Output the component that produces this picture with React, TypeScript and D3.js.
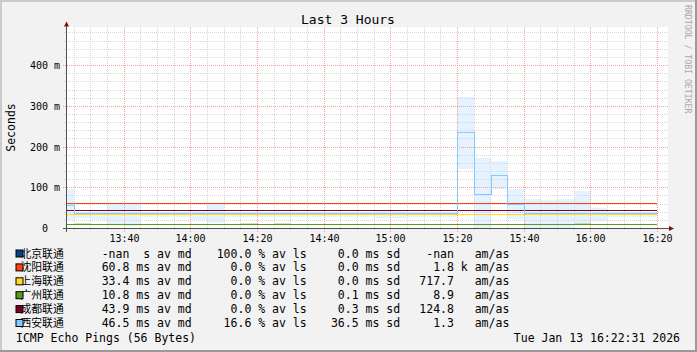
import React from "react";
import * as d3 from "d3";

const TITLE = "Last 3 Hours";
const Y_LABEL = "Seconds";
const WATERMARK = "RRDTOOL / TOBI OETIKER";
const FOOT_LEFT = "ICMP Echo Pings (56 Bytes)";
const FOOT_RIGHT = "Tue Jan 13 16:22:31 2026";

const hosts = ["北京联通", "沈阳联通", "上海联通", "广州联通", "成都联通", "西安联通"];
const hostColors = ["#004586", "#ff420e", "#ffde20", "#579d1c", "#7e0021", "#83caff"];

// legend statistics
const avMd = [NaN, 60.8, 33.4, 10.8, 43.9, 46.5];
const avLs = [100.0, 0.0, 0.0, 0.0, 0.0, 16.6];
const avSd = [0.0, 0.0, 0.0, 0.1, 0.3, 36.5];
const amAs = [NaN, 1800, 717.7, 8.9, 124.8, 1.3];

// 5-minute steps (start times)
const stepTimes = [
  "13:20", "13:25", "13:30", "13:35", "13:40", "13:45",
  "13:50", "13:55", "14:00", "14:05", "14:10", "14:15",
  "14:20", "14:25", "14:30", "14:35", "14:40", "14:45",
  "14:50", "14:55", "15:00", "15:05", "15:10", "15:15",
  "15:20", "15:25", "15:30", "15:35", "15:40", "15:45",
  "15:50", "15:55", "16:00", "16:05", "16:10", "16:15",
];
const lastStepEnd = "16:20";

// medians (ms)
const beijingMedian = [
  null, null, null, null, null, null, null, null, null, null, null, null,
  null, null, null, null, null, null, null, null, null, null, null, null,
  null, null, null, null, null, null, null, null, null, null, null, null,
];
const shenyangMedian = [
  60.8, 60.8, 60.8, 60.8, 60.8, 60.8, 60.8, 60.8, 60.8, 60.8, 60.8, 60.8,
  60.8, 60.8, 60.8, 60.8, 60.8, 60.8, 60.8, 60.8, 60.8, 60.8, 60.8, 60.8,
  60.8, 60.8, 60.8, 60.8, 60.8, 60.8, 60.8, 60.8, 60.8, 60.8, 60.8, 60.8,
];
const shanghaiMedian = [
  33.4, 33.4, 33.4, 33.4, 33.4, 33.4, 33.4, 33.4, 33.4, 33.4, 33.4, 33.4,
  33.4, 33.4, 33.4, 33.4, 33.4, 33.4, 33.4, 33.4, 33.4, 33.4, 33.4, 33.4,
  33.4, 33.4, 33.4, 33.4, 33.4, 33.4, 33.4, 33.4, 33.4, 33.4, 33.4, 33.4,
];
const guangzhouMedian = [
  10.8, 10.8, 10.8, 10.8, 10.8, 10.8, 10.8, 10.8, 10.8, 10.8, 10.8, 10.8,
  10.8, 10.8, 10.8, 10.8, 10.8, 10.8, 10.8, 10.8, 10.8, 10.8, 10.8, 10.8,
  10.8, 10.8, 10.8, 10.8, 10.8, 10.8, 10.8, 10.8, 10.8, 10.8, 10.8, 10.8,
];
const chengduMedian = [
  43.9, 43.9, 43.9, 43.9, 43.9, 43.9, 43.9, 43.9, 43.9, 43.9, 43.9, 43.9,
  43.9, 43.9, 43.9, 43.9, 43.9, 43.9, 43.9, 43.9, 43.9, 43.9, 43.9, 43.9,
  43.9, 43.9, 43.9, 43.9, 43.9, 43.9, 43.9, 43.9, 43.9, 43.9, 43.9, 43.9,
];
const xianMedian = [
  57, 36.8, 36.8, 36.8, 36.8, 36.8, 36.8, 36.8, 36.8, 36.8, 36.8, 36.8,
  36.8, 36.8, 36.8, 36.8, 36.8, 36.8, 36.8, 36.8, 36.8, 36.8, 36.8, 36.8,
  235, 83, 130, 59, 36.8, 36.8, 36.8, 36.8, 36.8, 36.8, 36.8, 36.8,
];
const seriesMedians = [beijingMedian, shenyangMedian, shanghaiMedian, guangzhouMedian, chengduMedian, xianMedian];

// smoke (spread) bands
const xianLo = [
  20, 25, 22, 8, 6, 29, 29, 29, 22, 14, 29, 29,
  29, 29, 29, 29, 29, 29, 29, 27, 27, 29, 29, 29,
  147, 0, 98, 23, 1, 1, 1, 12, 19, 29, 29, 29,
];
const xianHi = [
  96, 41, 45, 61, 61, 41, 41, 41, 45, 59, 41, 41,
  41, 41, 41, 41, 41, 41, 41, 45, 45, 41, 41, 41,
  323, 172, 165, 96, 72, 70, 72, 91, 51, 41, 41, 41,
];
const guangzhouLo = [
  10.8, 9.5, 10.8, 10.8, 10.8, 10.8, 10.8, 10.8, 10.8, 10.8, 10.8, 9.5,
  10.8, 9.5, 10.8, 10.8, 10.8, 10.8, 10.8, 10.8, 10.8, 10.8, 10.8, 10.8,
  10.8, 10.8, 10.8, 10.8, 10.8, 10.8, 10.8, 9.5, 10.8, 10.8, 10.8, 10.8,
];
const guangzhouHi = [
  10.8, 13.5, 10.8, 10.8, 10.8, 10.8, 10.8, 10.8, 10.8, 10.8, 10.8, 13.5,
  10.8, 13.5, 10.8, 10.8, 10.8, 10.8, 10.8, 10.8, 10.8, 10.8, 10.8, 10.8,
  10.8, 10.8, 10.8, 10.8, 10.8, 10.8, 10.8, 13.5, 10.8, 10.8, 10.8, 10.8,
];

const W = 697;
const H = 352;
const MONO = "'DejaVu Sans Mono', monospace";
const CJK = "'Noto Sans CJK SC', 'Noto Sans', sans-serif";

const toDate = (hm: string) => {
  const [h, m] = hm.split(":").map(Number);
  return new Date(2026, 0, 13, h, m, 0);
};

const fmt = (v: number, w: number) => (isNaN(v) ? "-nan" : v.toFixed(1)).padStart(w, " ");

export default function App() {
  const start = new Date(2026, 0, 13, 13, 22, 54);
  const end = new Date(2026, 0, 13, 16, 22, 54);
  const x = d3.scaleTime().domain([start, end]).range([67, 667]);
  const y = d3.scaleLinear().domain([0, 491]).range([228.5, 28.5]);
  const px = (v: number) => Math.floor(v) + 0.5;

  const steps = stepTimes.map(toDate);
  const endT = toDate(lastStepEnd);
  const stepEnds = steps.map((s, i) => (i < steps.length - 1 ? steps[i + 1] : endT));

  const minorY = d3.range(20, 481, 20).filter((v) => v % 100 !== 0);
  const majorY = [100, 200, 300, 400];
  const minorX = d3.timeMinute.every(5)!.range(start, end).filter((t) => t.getMinutes() % 20 !== 0);
  const majorX = d3.timeMinute.every(20)!.range(start, end);
  const labelY = [0, 100, 200, 300, 400];

  const line = d3
    .line<{ t: Date; v: number | null }>()
    .defined((d) => d.v !== null)
    .x((d) => Math.round(x(d.t)))
    .y((d) => px(y(d.v as number)))
    .curve(d3.curveStepAfter);

  const seriesPts = seriesMedians.map((arr) => {
    const pts = arr.map((v, i) => ({ t: steps[i], v }));
    pts.push({ t: endT, v: arr[arr.length - 1] });
    return pts;
  });

  const smokeRects = (lo: number[], hi: number[], color: string, op: number, key: string) =>
    lo.map((l, i) => {
      const h = hi[i];
      if (h - l <= 0) return null;
      const x0 = Math.round(x(steps[i]));
      const x1 = Math.round(x(stepEnds[i]));
      const y0 = Math.round(y(h));
      const y1 = Math.round(y(l));
      return <rect key={key + i} x={x0} y={y0} width={x1 - x0} height={Math.max(1, y1 - y0)} fill={color} fillOpacity={op} />;
    });

  const rowBase = (i: number) => 257.5 + i * 13.9;

  const colA = avMd.map((v) => `${fmt(v, 4)} ${isNaN(v) ? " " : "m"}s av md`);
  const colB = avLs.map((v) => `${fmt(v, 5)} % av ls`);
  const colC = avSd.map((v) => `${fmt(v, 5)} ms sd`);
  const colD = amAs.map((v) =>
    !isNaN(v) && v >= 1000 ? `${fmt(v / 1000, 5)} k am/as` : `${fmt(v, 5)}   am/as`
  );

  return (
    <svg width={W} height={H} viewBox={`0 0 ${W} ${H}`} style={{ display: "block" }}>
      <style>{`body{margin:0}`}</style>
      <defs>
        <clipPath id="plotClip">
          <rect x={67} y={27} width={601} height={202} />
        </clipPath>
      </defs>
      {/* frame */}
      <rect x={0} y={0} width={W} height={H} fill="#f2f2f2" />
      <rect x={0} y={0} width={W} height={2} fill="#cbcbcb" />
      <rect x={0} y={0} width={2} height={H} fill="#cbcbcb" />
      <rect x={0} y={H - 2} width={W} height={2} fill="#9a9a9a" />
      <rect x={W - 2} y={0} width={2} height={H} fill="#9a9a9a" />

      {/* canvas */}
      <rect x={67} y={27} width={601} height={201} fill="#ffffff" />

      {/* smoke */}
      <g clipPath="url(#plotClip)">
        {smokeRects(xianLo, xianHi, hostColors[5], 0.22, "xs")}
        {smokeRects(guangzhouLo, guangzhouHi, hostColors[3], 0.28, "gs")}
      </g>

      {/* grid */}
      <g shapeRendering="crispEdges" strokeWidth={1}>
        {minorY.map((v) => (
          <line key={"my" + v} x1={64} x2={668} y1={px(y(v))} y2={px(y(v))} stroke="#d6d6d6" strokeDasharray="1,1" />
        ))}
        {minorX.map((t) => (
          <line key={"mx" + +t} x1={px(x(t))} x2={px(x(t))} y1={27} y2={231} stroke="#d6d6d6" strokeDasharray="1,1" />
        ))}
        {majorY.map((v) => (
          <line key={"My" + v} x1={63} x2={668} y1={px(y(v))} y2={px(y(v))} stroke="#f3a0a0" strokeDasharray="1,1" />
        ))}
        {majorX.map((t) => (
          <line key={"Mx" + +t} x1={px(x(t))} x2={px(x(t))} y1={27} y2={232} stroke="#f3a0a0" strokeDasharray="1,1" />
        ))}
      </g>

      {/* median lines */}
      <g clipPath="url(#plotClip)" fill="none" strokeWidth={1} shapeRendering="crispEdges">
        {seriesPts.map((pts, i) => (
          <path key={"l" + i} d={line(pts) || ""} stroke={hostColors[i]} />
        ))}
      </g>

      {/* axes */}
      <g shapeRendering="crispEdges">
        <line x1={66.5} x2={66.5} y1={23} y2={232} stroke="#505050" />
        <line x1={63} x2={670} y1={228.5} y2={228.5} stroke="#505050" />
      </g>
      <path d="M64,26.5 L69,26.5 L66.5,21.5 Z" fill="#8b0a0a" />
      <path d="M669,226 L669,231 L674,228.5 Z" fill="#8b0a0a" />

      {/* y tick labels */}
      {labelY.map((v) => (
        <text
          key={"yl" + v}
          x={v === 0 ? 48 : 60}
          y={px(y(v)) + 3.5}
          textAnchor="end"
          fontFamily={MONO}
          fontSize={10}
          fill="#000"
        >
          {v === 0 ? "0" : `${v} m`}
        </text>
      ))}
      {/* x tick labels */}
      {majorX.map((t) => (
        <text key={"xl" + +t} x={px(x(t))} y={242} textAnchor="middle" fontFamily={MONO} fontSize={10} fill="#000">
          {d3.timeFormat("%H:%M")(t)}
        </text>
      ))}

      {/* titles */}
      <text x={348} y={24} textAnchor="middle" fontFamily={MONO} fontSize={13} fill="#000">
        {TITLE}
      </text>
      <text transform="translate(14.5,127.5) rotate(-90)" textAnchor="middle" fontFamily={MONO} fontSize={11.5} fill="#000">
        {Y_LABEL}
      </text>
      <text transform="translate(684.5,5) rotate(90)" fontFamily={MONO} fontSize={8.2} fill="#a8a8a8">
        {WATERMARK}
      </text>

      {/* legend */}
      {hosts.map((h, i) => (
        <g key={"lg" + i}>
          <text x={20.5} y={rowBase(i)} fontFamily={CJK} fontSize={10.8} fill="#000">
            {h}
          </text>
          <rect x={16} y={rowBase(i) - 7.5} width={7} height={7} fill={hostColors[i]} stroke="#000" strokeWidth={1} />
          <text x={101.7} y={rowBase(i)} fontFamily={MONO} fontSize={11.5} fill="#000" style={{ whiteSpace: "pre" }}>
            {colA[i]}
          </text>
          <text x={216.7} y={rowBase(i)} fontFamily={MONO} fontSize={11.5} fill="#000" style={{ whiteSpace: "pre" }}>
            {colB[i]}
          </text>
          <text x={324} y={rowBase(i)} fontFamily={MONO} fontSize={11.5} fill="#000" style={{ whiteSpace: "pre" }}>
            {colC[i]}
          </text>
          <text x={419.3} y={rowBase(i)} fontFamily={MONO} fontSize={11.5} fill="#000" style={{ whiteSpace: "pre" }}>
            {colD[i]}
          </text>
        </g>
      ))}
      <text x={16} y={342} fontFamily={MONO} fontSize={11.5} fill="#000">
        {FOOT_LEFT}
      </text>
      <text x={680} y={342} textAnchor="end" fontFamily={MONO} fontSize={11.5} fill="#000">
        {FOOT_RIGHT}
      </text>
    </svg>
  );
}
